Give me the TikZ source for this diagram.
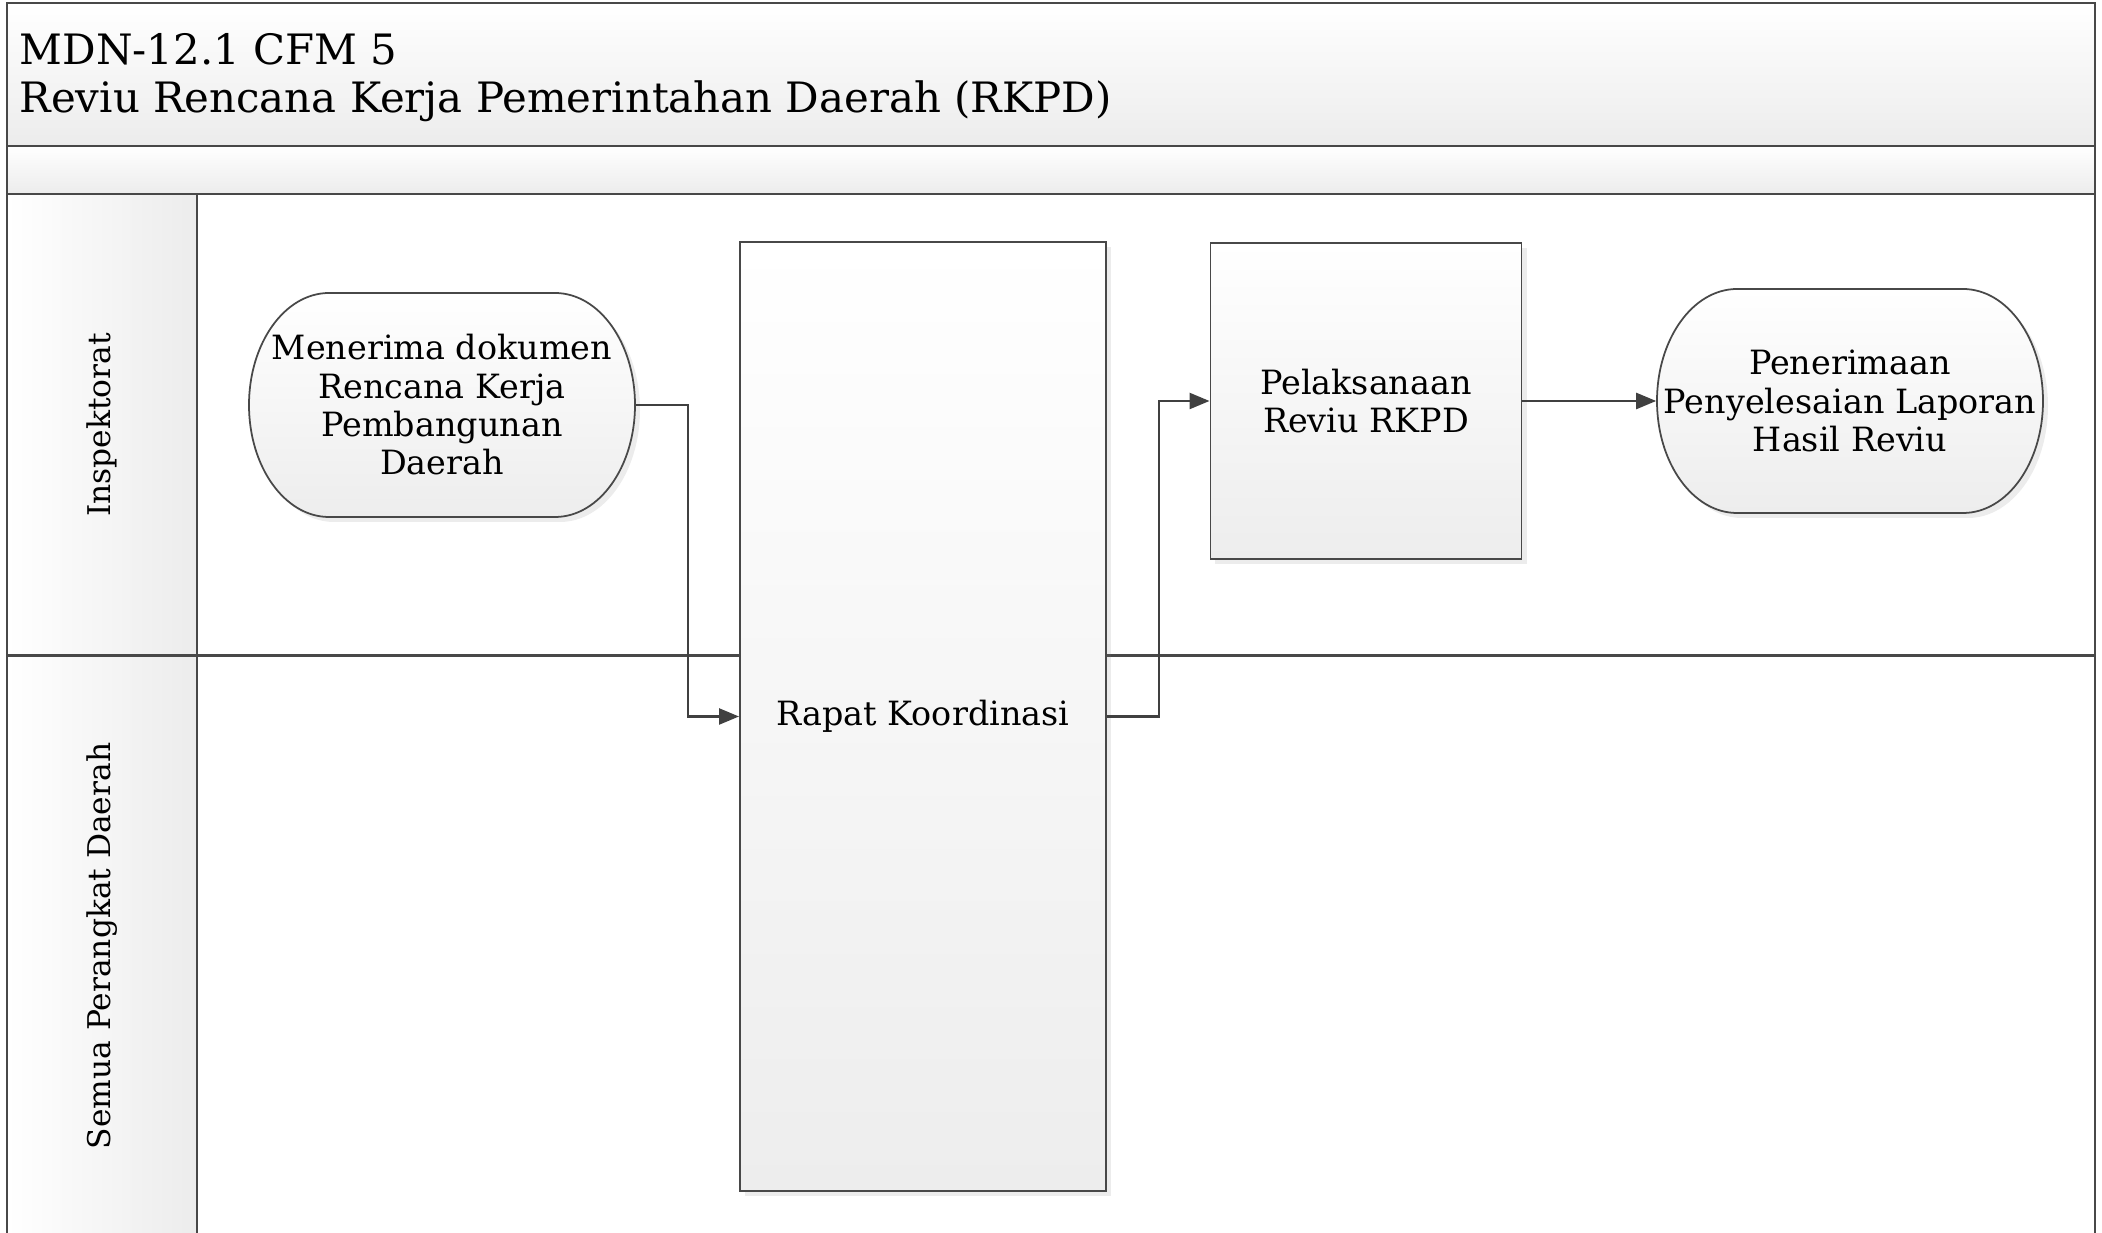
\documentclass[tikz,border=0pt]{standalone}
\usepackage{fontspec}
\setmainfont{DejaVu Serif}
\usetikzlibrary{arrows.meta,shadows}
\definecolor{laneline}{RGB}{72,72,72}
\definecolor{flowline}{RGB}{64,64,64}
\definecolor{bandgray}{RGB}{236,236,236}
\definecolor{boxgray}{RGB}{237,237,237}
\newcommand{\titlefont}{\fontsize{11.9}{13.7}\selectfont}
\newcommand{\stepfont}{\fontsize{9.5}{10.9}\selectfont}
\newcommand{\lanefont}{\fontsize{8.9}{11}\selectfont}
\tikzset{
  stepbox/.style={draw=laneline,line width=0.5pt,top color=white,bottom color=boxgray,
    drop shadow={opacity=0.15,shadow xshift=0.05cm,shadow yshift=-0.05cm},
    align=center,font=\stepfont,inner sep=0pt},
  flow/.style={draw=flowline,line width=0.7pt,-{Triangle[length=0.2cm,width=0.16cm]}},
}
\newcommand{\termnode}[4]{%
  \path[draw=laneline,line width=0.5pt,top color=white,bottom color=boxgray,
    drop shadow={opacity=0.15,shadow xshift=0.05cm,shadow yshift=-0.05cm}]
    (#2-113,#3+112) -- (#2+113,#3+112)
    arc[start angle=90,end angle=-90,x radius=80,y radius=112]
    -- (#2-113,#3-112)
    arc[start angle=270,end angle=90,x radius=80,y radius=112] -- cycle;
  % Invisible node on top, so connectors can end on its anchors.
  \node[align=center,font=\stepfont,minimum width=3.86cm,minimum height=2.24cm,
    inner sep=0pt] (#1) at (#2,#3) {#4};
}

\begin{document}
\begin{tikzpicture}[x=0.01cm,y=0.01cm]
    \useasboundingbox (0,0) rectangle (2102,1233);
    \path[top color=white,bottom color=bandgray] (7,1087) rectangle (2095,1230);
    \path[top color=white,bottom color=bandgray] (7,1039) rectangle (2095,1087);
    \path[left color=white,right color=bandgray] (7,-5) rectangle (197,1039);
    \draw[laneline,line width=0.6pt] (7,-5) |- (2095,1230) -- (2095,-5);
    \draw[laneline,line width=0.6pt] (7,1087) -- (2095,1087);
    \draw[laneline,line width=0.6pt] (7,1039) -- (2095,1039);
    \draw[laneline,line width=0.6pt] (197,-5) -- (197,1039);
    \draw[laneline,line width=0.6pt] (7,577.5) -- (2095,577.5);
    \node[anchor=west,align=left,font=\titlefont,inner sep=0pt] (title) at (19,1155)
      {MDN-12.1 CFM 5\\Reviu Rencana Kerja Pemerintahan Daerah (RKPD)};
    \node[rotate=90,font=\lanefont] (inspektorat) at (102,808) {Inspektorat};
    \node[rotate=90,font=\lanefont] (perangkat) at (102,287) {Semua Perangkat Daerah};
    \termnode{terima}{442}{828}{Menerima dokumen\\Rencana Kerja\\Pembangunan\\Daerah}
    \node[stepbox,minimum width=3.66cm,minimum height=9.48cm] (rapat) at (923,516.5)
      {Rapat Koordinasi};
    \node[stepbox,minimum width=3.11cm,minimum height=3.16cm] (pelaksanaan) at (1366,832)
      {Pelaksanaan\\Reviu RKPD};
    \termnode{laporan}{1850}{832}{Penerimaan\\Penyelesaian Laporan\\Hasil Reviu}
    \draw[flow] (terima.east) -- ++(52,0) |- (rapat.west);
    \draw[flow] (rapat.east) -- ++(52,0) |- (pelaksanaan.west);
    \draw[flow] (pelaksanaan.east) -- (laporan.west);
  \end{tikzpicture}
\end{document}
